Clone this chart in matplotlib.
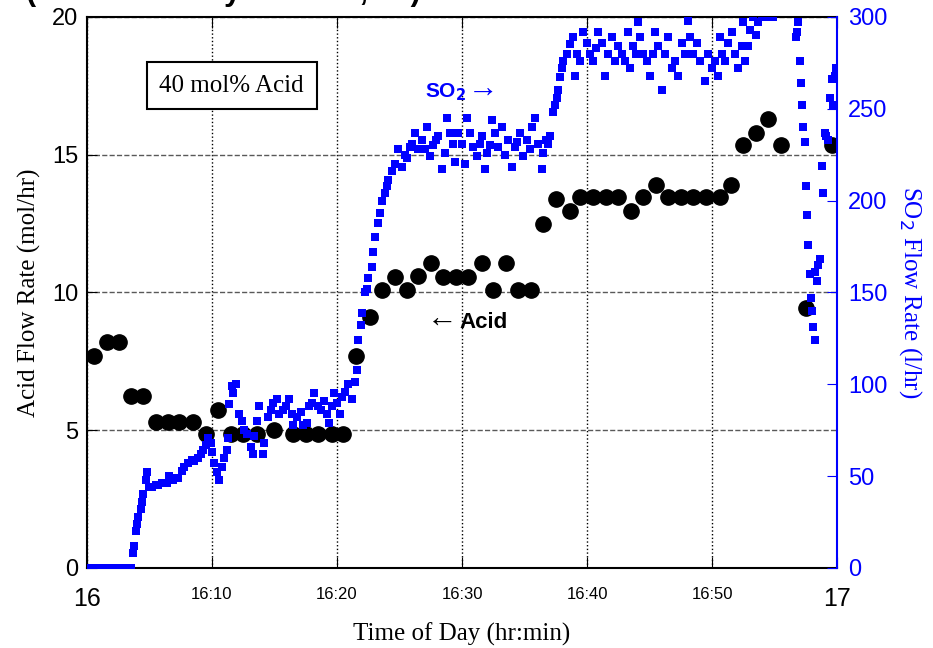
import matplotlib
matplotlib.use("Agg")
import matplotlib.pyplot as plt

# acid feed (mol/hr), time in minutes after 16:00
acid_time = [0.6, 1.6, 2.6, 3.5, 4.5, 5.5, 6.5, 7.4, 8.5, 9.5, 10.5, 11.5, 12.5, 13.6,
             15.0, 16.5, 17.5, 18.5, 19.6, 20.5, 21.5, 22.6, 23.6, 24.6, 25.6, 26.5,
             27.5, 28.5, 29.5, 30.5, 31.6, 32.5, 33.5, 34.5, 35.5, 36.5, 37.5, 38.6,
             39.4, 40.5, 41.5, 42.5, 43.5, 44.5, 45.5, 46.5, 47.5, 48.5, 49.5, 50.6,
             51.5, 52.5, 53.5, 54.5, 55.5, 57.5, 59.6]
acid_rate = [7.7, 8.2, 8.2, 6.25, 6.25, 5.3, 5.3, 5.3, 5.3, 4.85, 5.75, 4.85, 4.85, 4.85,
             5.0, 4.85, 4.85, 4.85, 4.85, 4.85, 7.7, 9.1, 10.1, 10.55, 10.1, 10.6,
             11.05, 10.55, 10.55, 10.55, 11.05, 10.1, 11.05, 10.1, 10.1, 12.5, 13.4, 12.95,
             13.45, 13.45, 13.45, 13.45, 12.95, 13.45, 13.9, 13.45, 13.45, 13.45, 13.45, 13.45,
             13.9, 15.35, 15.8, 16.3, 15.35, 9.45, 15.35]

# SO2 feed (l/hr)
so2_time = [0.0, 0.25, 0.5, 0.75, 1.0, 1.25, 1.5, 1.75, 2.0, 2.25, 2.5, 2.75, 3.0, 3.25, 3.5,
            3.7, 3.8, 3.9, 4.0, 4.1, 4.3, 4.4, 4.5, 4.7, 4.8, 5.0, 5.2, 5.5, 5.7, 6.0,
            6.2, 6.4, 6.6, 6.9, 7.1, 7.3, 7.6, 7.8, 8.1, 8.4, 8.6, 8.9, 9.1, 9.3, 9.5,
            9.7, 9.9, 10.0, 10.2, 10.4, 10.6, 10.8, 11.0, 11.2, 11.3, 11.4, 11.6, 11.7, 11.9,
            12.2, 12.4, 12.6, 12.8, 13.1, 13.3, 13.4, 13.6, 13.8, 14.1, 14.2, 14.5, 14.7, 14.9,
            15.2, 15.4, 15.7, 15.9, 16.2, 16.4, 16.5, 16.8, 17.1, 17.3, 17.6, 17.8, 18.0, 18.2,
            18.5, 18.7, 19.0, 19.2, 19.4, 19.6, 19.8, 20.0, 20.2, 20.4, 20.6, 20.9, 21.2, 21.4,
            21.6, 21.7, 21.9, 22.0, 22.2, 22.4, 22.5, 22.8, 22.9, 23.0, 23.3, 23.4, 23.6, 23.8,
            24.0, 24.1, 24.4, 24.6, 24.9, 25.2, 25.4, 25.6, 25.8, 26.0, 26.2, 26.5, 26.8, 27.0,
            27.2, 27.4, 27.7, 27.9, 28.1, 28.4, 28.6, 28.8, 29.0, 29.3, 29.4, 29.7, 30.0, 30.2,
            30.4, 30.6, 30.9, 31.2, 31.4, 31.6, 31.8, 32.0, 32.2, 32.4, 32.6, 32.9, 33.2, 33.4,
            33.7, 34.0, 34.2, 34.4, 34.6, 34.9, 35.2, 35.4, 35.6, 35.8, 36.1, 36.4, 36.5, 36.7,
            36.9, 37.0, 37.3, 37.4, 37.6, 37.7, 37.8, 38.0, 38.1, 38.4, 38.6, 38.9, 39.0, 39.2,
            39.4, 39.7, 40.0, 40.2, 40.5, 40.7, 40.9, 41.2, 41.4, 41.7, 42.0, 42.2, 42.5, 42.8,
            43.0, 43.3, 43.4, 43.7, 43.9, 44.1, 44.2, 44.5, 44.8, 45.0, 45.3, 45.4, 45.7, 46.0,
            46.2, 46.5, 46.8, 47.0, 47.3, 47.6, 47.8, 48.1, 48.2, 48.5, 48.8, 49.0, 49.4, 49.7,
            50.0, 50.2, 50.5, 50.6, 50.8, 51.0, 51.3, 51.6, 51.8, 52.1, 52.4, 52.5, 52.6, 52.9,
            53.0, 53.3, 53.5, 53.7, 54.0, 54.2, 54.5, 54.9,
            56.7, 56.8, 56.9, 57.0, 57.1, 57.2, 57.3, 57.4, 57.5, 57.6, 57.7, 57.8, 57.9, 58.0,
            58.1, 58.2, 58.2, 58.4, 58.5, 58.6, 58.8, 58.9, 59.0, 59.1, 59.3, 59.4, 59.6, 59.7,
            59.8, 59.9]
so2_rate = [0, 0, 0, 0, 0, 0, 0, 0, 0, 0, 0, 0, 0, 0, 0,
            8, 12, 20, 24, 28, 32, 36, 40, 48, 52, 44, 44, 45, 45, 46,
            46, 46, 50, 48, 49, 49, 53, 55, 57, 59, 58, 60, 62, 64, 67,
            71, 68, 63, 57, 52, 48, 55, 60, 64, 71, 89, 99, 95, 100,
            84, 80, 75, 73, 66, 62, 72, 80, 88, 62, 68, 82, 86, 90,
            92, 84, 86, 88, 92, 84, 78, 82, 85, 78, 79, 88, 90, 95,
            88, 86, 91, 84, 79, 88, 95, 90, 84, 93, 96, 100, 92, 101,
            108, 124, 132, 139, 150, 152, 158, 164, 172, 180, 188, 193, 200, 204,
            208, 211, 216, 220, 228, 218, 225, 223, 229, 231, 237, 228, 233, 228,
            240, 224, 230, 233, 235, 217, 226, 245, 237, 231, 221, 237, 231, 220,
            245, 237, 229, 224, 231, 235, 217, 226, 230, 244, 237, 229, 240, 225,
            233, 218, 229, 232, 237, 224, 233, 228, 240, 245, 231, 217, 226, 233,
            231, 235, 248, 252, 256, 260, 267, 272, 276, 280, 285, 289, 268, 280,
            276, 292, 286, 280, 276, 283, 292, 286, 268, 280, 289, 276, 284, 280,
            276, 292, 272, 284, 280, 297, 289, 280, 276, 268, 280, 292, 284, 260,
            280, 289, 272, 276, 268, 286, 280, 298, 289, 280, 286, 276, 265, 280,
            272, 276, 268, 289, 280, 276, 286, 292, 280, 272, 284, 297, 276, 284,
            293, 300, 290, 297, 300, 300, 300, 300,
            289, 292, 297, 276, 264, 252, 240, 232, 208, 192, 176, 160, 147, 140,
            131, 124, 161, 156, 165, 168, 219, 204, 237, 235, 233, 256, 266, 252,
            268, 272]

xticks = [0, 10, 20, 30, 40, 50, 60]
xtick_labels = ["16", "16:10", "16:20", "16:30", "16:40", "16:50", "17"]

serif = ["Liberation Serif", "DejaVu Serif"]
sans = ["Liberation Sans", "DejaVu Sans"]

fig = plt.figure(figsize=(9.33, 6.48), dpi=100)
ax = fig.add_axes([0.0932, 0.1235, 0.804, 0.8505])
ax2 = ax.twinx()

ax.plot(acid_time, acid_rate, "o", color="black", markersize=11, zorder=3)
ax2.plot(so2_time, so2_rate, "s", color="blue", markersize=6, markeredgewidth=0, zorder=3)

ax.set_xlim(0, 60)
ax.set_ylim(0, 20)
ax2.set_ylim(0, 300)

ax.set_xticks(xticks)
ax.set_xticklabels(xtick_labels, family=sans)
for lab in ax.get_xticklabels():
    if ":" in lab.get_text():
        lab.set_fontsize(12)
    else:
        lab.set_fontsize(18)
ax.set_yticks([0, 5, 10, 15, 20])
ax.tick_params(axis="y", labelsize=17, direction="in", length=7, right=False, pad=6)
ax.tick_params(axis="x", direction="in", length=8, top=True, pad=14)
for lab in ax.get_yticklabels():
    lab.set_family(sans)

ax2.set_yticks([0, 50, 100, 150, 200, 250, 300])
ax2.tick_params(axis="y", labelsize=17, direction="in", length=7, colors="blue", pad=8)
for lab in ax2.get_yticklabels():
    lab.set_family(sans)

ax.yaxis.grid(True, linestyle="--", color="0.35", linewidth=1)
ax.xaxis.grid(True, linestyle=":", color="black", linewidth=1)

for s in ["left", "top", "bottom"]:
    ax.spines[s].set_linewidth(1.5)
ax.spines["right"].set_visible(False)
ax2.spines["right"].set_color("blue")
ax2.spines["right"].set_linewidth(1.5)
for s in ["left", "top", "bottom"]:
    ax2.spines[s].set_visible(False)

ax.set_xlabel("Time of Day (hr:min)", family=serif, fontsize=18, labelpad=8)
ax.set_ylabel("Acid Flow Rate (mol/hr)", family=serif, fontsize=18, labelpad=8)
ax2.set_ylabel("SO$_2$ Flow Rate (l/hr)", family=serif, fontsize=18, color="blue",
               rotation=270, labelpad=26)

ax.text(0.193, 0.875, "40 mol% Acid", transform=ax.transAxes, ha="center", va="center",
        family=serif, fontsize=18,
        bbox=dict(boxstyle="square,pad=0.5", facecolor="white", edgecolor="black", linewidth=1.5),
        zorder=5)
ax.text(0.451, 0.864, "SO$_\\mathbf{2}$", transform=ax.transAxes, ha="left", va="center",
        family=sans, fontsize=15, fontweight="bold", color="blue", zorder=5)
ax.text(0.508, 0.866, "\u2192", transform=ax.transAxes, ha="left", va="center",
        family=serif, fontsize=22, color="blue", zorder=5)
ax.text(0.453, 0.449, "\u2190", transform=ax.transAxes, ha="left", va="center",
        family=serif, fontsize=22, color="black", zorder=5)
ax.text(0.497, 0.446, "Acid", transform=ax.transAxes, ha="left", va="center",
        family=sans, fontsize=16, fontweight="bold", color="black", zorder=5)

# title cut off at the top edge
fig.text(0.028, 1.0, "(Feed Test Day 3 Run 2, 08)", ha="left", va="baseline",
         family=sans, fontsize=22, fontweight="bold")

fig.savefig("out.png", dpi=100)
